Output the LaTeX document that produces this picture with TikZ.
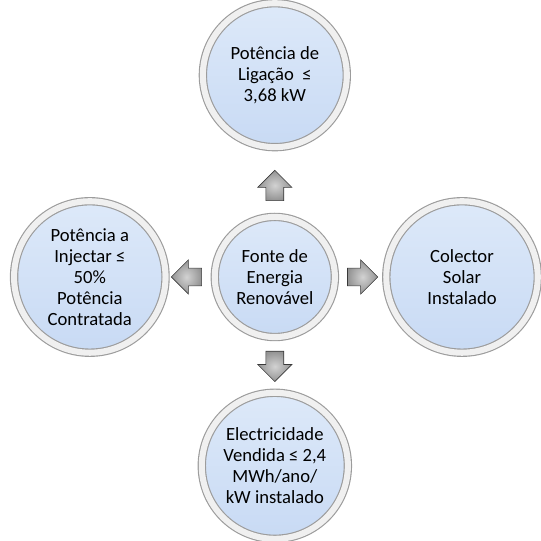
\documentclass[tikz,border=0pt]{standalone}
\usepackage{fontspec}
\setmainfont{Carlito}
\usetikzlibrary{shapes.arrows}
\definecolor{bubtop}{HTML}{DDE9F9}
\definecolor{bubbot}{HTML}{C8DAF4}
\definecolor{rim}{HTML}{9C9C9C}
\tikzset{
  bub/.style={circle, draw=rim, double=gray!12, double distance=3.2pt, line width=0.6pt,
    top color=bubtop, bottom color=bubbot, align=center, inner sep=0pt,
    font=\fontsize{9.8}{11}\selectfont},
  blk/.style={single arrow, draw=gray!45!black, line width=0.3pt, shading=radial,
    inner color=gray!35, outer color=gray!85, inner sep=0.16cm,
    minimum height=0.56cm, single arrow head extend=0.15cm}}

\begin{document}
\begin{tikzpicture}
\useasboundingbox (0,0) rectangle (10,10);
% centre and the four conditions
\node[bub, minimum size=2.22cm] (fonte) at (5.08,4.88) {Fonte de\\Energia\\Renovável};
\node[bub, minimum size=2.66cm] (lig) at (5.08,8.61) {Potência de\\Ligação\ \ ≤\\3,68 kW};
\node[bub, minimum size=2.80cm] (inj) at (1.66,4.88) {Potência a\\Injectar ≤\\50\%\\Potência\\Contratada};
\node[bub, minimum size=2.80cm] (col) at (8.54,4.88) {Colector\\Solar\\Instalado};
\node[bub, minimum size=2.70cm] (vend) at (5.08,1.39) {Electricidade\\Vendida ≤ 2,4\\MWh/ano/\\kW instalado};
% block arrows
\node[blk, shape border rotate=90] (aup) at (5.08,6.49) {};
\node[blk, shape border rotate=270] (adn) at (5.08,3.31) {};
\node[blk, shape border rotate=180] (alf) at (3.53,4.88) {};
\node[blk] (art) at (6.62,4.88) {};
\end{tikzpicture}
\end{document}
